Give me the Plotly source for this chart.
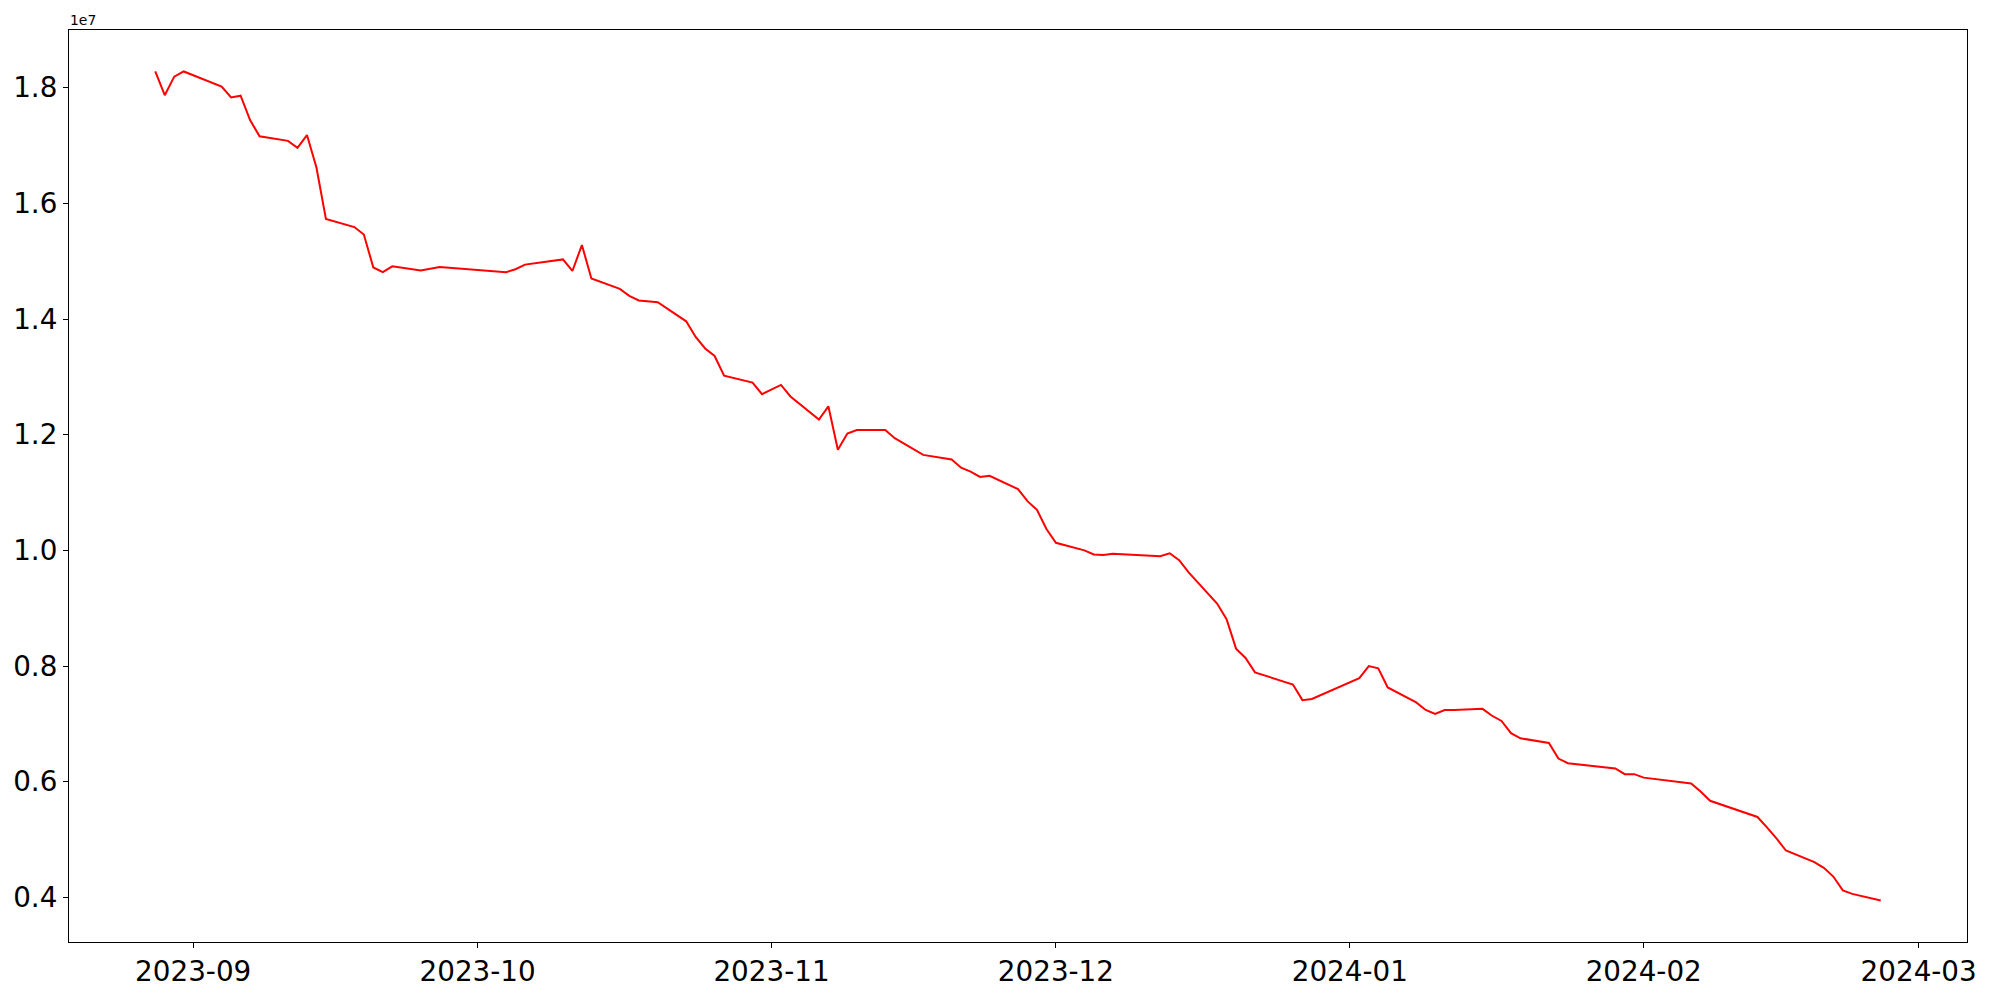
import pandas as pd
import plotly.graph_objects as go

dates = [
    "2023-08-28", "2023-08-29", "2023-08-30", "2023-08-31", "2023-09-04", "2023-09-05",
    "2023-09-06", "2023-09-07", "2023-09-08", "2023-09-11", "2023-09-12", "2023-09-13",
    "2023-09-14", "2023-09-15", "2023-09-18", "2023-09-19", "2023-09-20", "2023-09-21",
    "2023-09-22", "2023-09-25", "2023-09-27", "2023-10-04", "2023-10-05", "2023-10-06",
    "2023-10-10", "2023-10-11", "2023-10-12", "2023-10-13", "2023-10-16", "2023-10-17",
    "2023-10-18", "2023-10-20", "2023-10-23", "2023-10-24", "2023-10-25", "2023-10-26",
    "2023-10-27", "2023-10-30", "2023-10-31", "2023-11-02", "2023-11-03", "2023-11-06",
    "2023-11-07", "2023-11-08", "2023-11-09", "2023-11-10", "2023-11-13", "2023-11-14",
    "2023-11-17", "2023-11-20", "2023-11-21", "2023-11-22", "2023-11-23", "2023-11-24",
    "2023-11-27", "2023-11-28", "2023-11-29", "2023-11-30", "2023-12-01", "2023-12-04",
    "2023-12-05", "2023-12-06", "2023-12-07", "2023-12-12", "2023-12-13", "2023-12-14",
    "2023-12-15", "2023-12-18", "2023-12-19", "2023-12-20", "2023-12-21", "2023-12-22",
    "2023-12-26", "2023-12-27", "2023-12-28", "2024-01-02", "2024-01-03", "2024-01-04",
    "2024-01-05", "2024-01-08", "2024-01-09", "2024-01-10", "2024-01-11", "2024-01-12",
    "2024-01-15", "2024-01-16", "2024-01-17", "2024-01-18", "2024-01-19", "2024-01-22",
    "2024-01-23", "2024-01-24", "2024-01-29", "2024-01-30", "2024-01-31", "2024-02-01",
    "2024-02-06", "2024-02-07", "2024-02-08", "2024-02-13", "2024-02-14", "2024-02-15",
    "2024-02-16", "2024-02-19", "2024-02-20", "2024-02-21", "2024-02-22", "2024-02-23",
    "2024-02-26",
]

values = [
    18280000, 17870000, 18190000, 18280000, 18020000, 17830000,
    17860000, 17440000, 17160000, 17080000, 16960000, 17180000,
    16620000, 15730000, 15590000, 15460000, 14890000, 14810000,
    14910000, 14840000, 14900000, 14810000, 14860000, 14940000,
    15030000, 14830000, 15280000, 14700000, 14520000, 14400000,
    14320000, 14290000, 13960000, 13690000, 13490000, 13360000,
    13020000, 12900000, 12700000, 12860000, 12660000, 12260000,
    12490000, 11740000, 12020000, 12080000, 12080000, 11940000,
    11650000, 11570000, 11430000, 11360000, 11270000, 11290000,
    11060000, 10850000, 10700000, 10370000, 10130000, 10000000,
    9930000, 9920000, 9940000, 9900000, 9950000, 9830000,
    9620000, 9080000, 8810000, 8300000, 8140000, 7890000,
    7680000, 7410000, 7430000, 7790000, 8000000, 7960000,
    7630000, 7370000, 7240000, 7170000, 7240000, 7240000,
    7260000, 7140000, 7050000, 6840000, 6750000, 6670000,
    6400000, 6320000, 6230000, 6130000, 6130000, 6070000,
    5970000, 5830000, 5670000, 5390000, 5210000, 5020000,
    4810000, 4610000, 4510000, 4360000, 4120000, 4060000,
    3945000,
]

y_tick_values = [4e6, 6e6, 8e6, 10e6, 12e6, 14e6, 16e6, 18e6]
y_tick_labels = ["0.4", "0.6", "0.8", "1.0", "1.2", "1.4", "1.6", "1.8"]
offset_label = "1e7"

# matplotlib-like 5% margins
dt = pd.to_datetime(dates)
xspan = dt.max() - dt.min()
xr = [dt.min() - 0.05 * xspan, dt.max() + 0.05 * xspan]
ymin, ymax = min(values), max(values)
yspan = ymax - ymin
yr = [ymin - 0.05 * yspan, ymax + 0.05 * yspan]

font_family = "'DejaVu Sans', sans-serif"

fig = go.Figure()
fig.add_trace(go.Scatter(
    x=dates, y=values, mode="lines",
    line=dict(color="red", width=2),
    showlegend=False,
))

fig.update_layout(
    width=2000, height=1000,
    margin=dict(l=69, r=33, t=30, b=53),
    paper_bgcolor="white", plot_bgcolor="white",
    font=dict(family=font_family, color="black", size=27.8),
)

fig.update_xaxes(
    type="date", range=xr,
    tick0="2023-09-01", dtick="M1", tickformat="%Y-%m",
    showgrid=False, zeroline=False,
    showline=True, mirror=True, linecolor="black", linewidth=1.1,
    ticks="outside", ticklen=5, tickwidth=1.1, tickcolor="black",
    tickfont=dict(size=27.8, family=font_family, color="black"),
)
fig.update_yaxes(
    range=yr,
    tickvals=y_tick_values, ticktext=y_tick_labels,
    showgrid=False, zeroline=False,
    showline=True, mirror=True, linecolor="black", linewidth=1.1,
    ticks="outside", ticklen=5, tickwidth=1.1, tickcolor="black",
    tickfont=dict(size=27.8, family=font_family, color="black"),
)

fig.add_annotation(
    text=offset_label, xref="paper", yref="paper", x=0, y=1,
    xanchor="left", yanchor="bottom", showarrow=False,
    font=dict(size=13.9, family=font_family, color="black"),
    borderpad=0, yshift=1,
)

fig.write_html(
    "out.html",
    config={"displayModeBar": False},
    post_script="document.body.style.margin='0';document.body.style.padding='0';",
)
